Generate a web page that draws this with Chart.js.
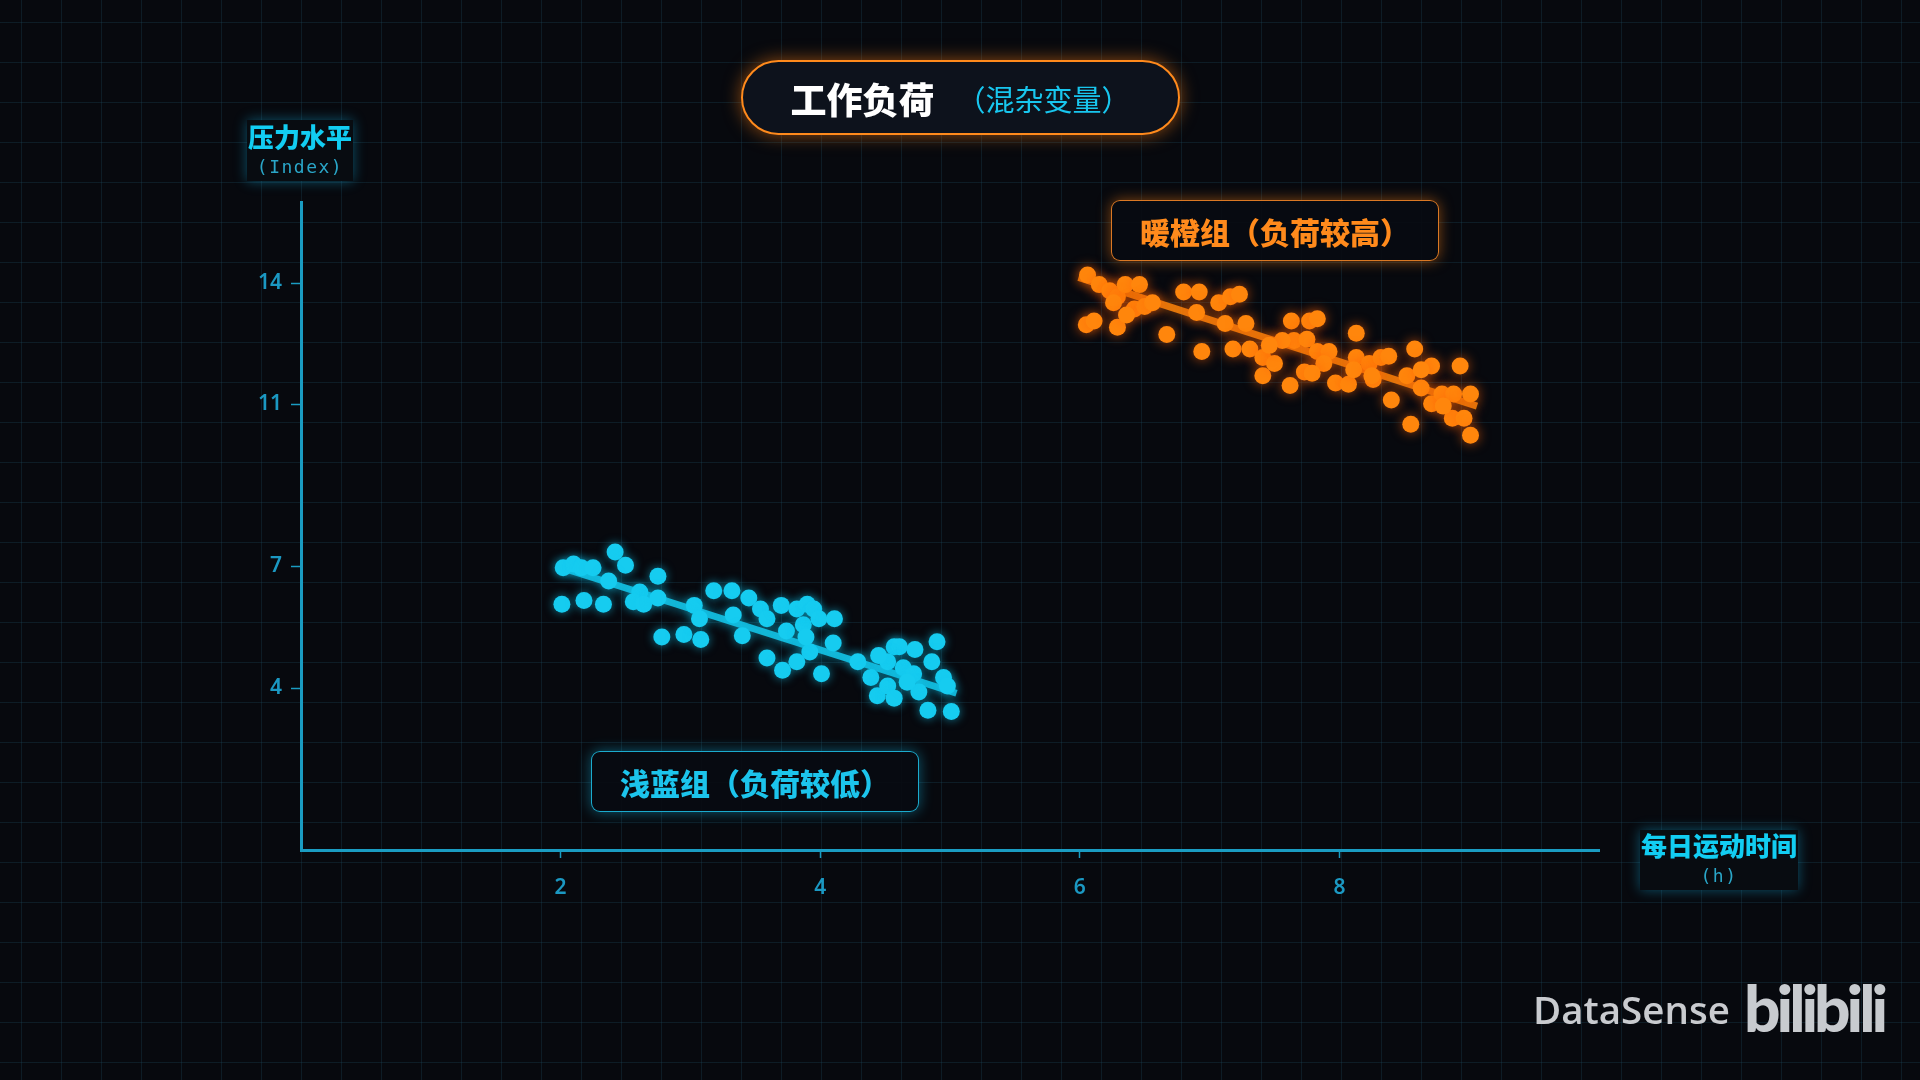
<!DOCTYPE html>
<html>
<head>
<meta charset="utf-8">
<script src="https://cdn.jsdelivr.net/npm/chart.js@4.4.1/dist/chart.umd.min.js"></script>
<style>
  html, body {
    margin: 0;
    padding: 0;
    width: 1920px;
    height: 1080px;
    overflow: hidden;
    background-color: #07090e;
    background-image:
      linear-gradient(rgba(30, 80, 100, 0.28) 1px, transparent 1px),
      linear-gradient(90deg, rgba(30, 80, 100, 0.28) 1px, transparent 1px);
    background-size: 40px 40px;
    background-position: 21px 22px;
    font-family: "Noto Sans CJK SC", "Noto Sans", sans-serif;
  }
  #wrap { position: absolute; left: 0; top: 0; width: 1920px; height: 1080px; }
  canvas { position: absolute; left: 0; top: 0; }
  .box { position: absolute; box-sizing: border-box; display: flex; align-items: center; justify-content: center; }
  #title {
    left: 741px; top: 60px; width: 439px; height: 75px;
    border: 2.5px solid #ff8a1c; border-radius: 38px;
    background: #0d121c;
    box-shadow: 0 0 18px rgba(255, 128, 20, 0.55);
  }
  #title .main { color: #ffffff; font-size: 36px; font-weight: 900; }
  #title .sub { color: #18c6ee; font-size: 29px; font-weight: 400; margin-left: 22px; }
  .group {
    height: 61px; width: 328px; border-radius: 9px;
    background: rgba(8, 11, 17, 0.92);
    font-size: 30px; font-weight: 900;
  }
  #warm {
    left: 1111px; top: 200px;
    border: 1.5px solid rgba(255, 140, 40, 0.85);
    box-shadow: 0 0 14px rgba(255, 130, 20, 0.5);
    color: #ff8a1c;
  }
  #cool {
    left: 591px; top: 751px;
    border: 1.5px solid rgba(30, 200, 240, 0.85);
    box-shadow: 0 0 14px rgba(20, 190, 235, 0.45);
    color: #1cc4ec;
  }
  .axtitle {
    flex-direction: column;
    background: #080c11;
    box-shadow: 0 0 12px rgba(20, 170, 220, 0.45);
  }
  .axtitle .cn { color: #12cdf2; font-size: 26px; font-weight: 900; line-height: 32px; }
  .axtitle .en { color: #2aa6c8; font-family: "DejaVu Sans Mono", monospace; font-size: 18px; letter-spacing: 1.5px; line-height: 30px; }
  #ytitle { left: 247px; top: 120px; width: 106px; height: 61px; }
  #xtitle { left: 1640px; top: 830px; width: 158px; height: 60px; }
  #mark {
    position: absolute; left: 1533px; top: 987px;
    color: #c9cbcf; font-family: "Open Sans", sans-serif; font-weight: 600; font-size: 38.5px; line-height: 44px;
  }
  #bili {
    position: absolute; left: 1744px; top: 972px;
    color: #c8cbcf; font-family: "Lato", sans-serif; font-weight: 900; font-size: 64px; line-height: 72px;
    letter-spacing: -4px;
  }
</style>
</head>
<body>
<div id="wrap">
  <canvas id="chart" width="1920" height="1080"></canvas>
  <div id="title" class="box"><span class="main">工作负荷</span><span class="sub">（混杂变量）</span></div>
  <div id="warm" class="box group">暖橙组（负荷较高）</div>
  <div id="cool" class="box group">浅蓝组（负荷较低）</div>
  <div id="ytitle" class="box axtitle"><span class="cn">压力水平</span><span class="en">(Index)</span></div>
  <div id="xtitle" class="box axtitle"><span class="cn">每日运动时间</span><span class="en">(h)</span></div>
  <div id="mark">DataSense</div>
  <div id="bili">bilibili</div>
</div>
<script>
// tick values
const xTicks = [2, 4, 6, 8];
const yTicks = [4, 7, 11, 14];

// 浅蓝组 (low workload): hours / stress
const blueX = [2.02, 2.10, 2.16, 2.25, 2.42, 2.50, 2.37, 2.61, 2.75, 2.01, 2.18, 2.33, 2.56, 2.64, 2.75,
  2.78, 2.95, 3.08, 3.03, 3.07, 3.18, 3.32, 3.45, 3.33, 3.40, 3.54, 3.59, 3.70, 3.59, 3.71, 3.74,
  3.82, 3.87, 3.90, 3.95, 3.99, 4.11, 3.92, 3.82, 4.01, 3.89, 4.10, 4.29, 4.39, 4.44, 4.52, 4.57,
  4.61, 4.52, 4.64, 4.72, 4.90, 4.86, 4.95, 4.98, 4.76, 4.83, 5.01, 4.57, 4.67, 4.73, 4.45];
const blueY = [6.97, 7.06, 6.97, 6.97, 7.36, 7.03, 6.64, 6.37, 6.76, 6.07, 6.16, 6.07, 6.13, 6.07, 6.22,
  5.26, 5.32, 5.20, 6.04, 5.71, 6.40, 6.40, 6.22, 5.80, 5.29, 5.95, 5.71, 6.04, 4.74, 4.44, 5.41,
  5.95, 5.56, 6.07, 5.95, 5.71, 5.71, 4.89, 4.65, 4.35, 5.26, 5.11, 4.65, 4.26, 3.81, 4.05, 5.02,
  5.02, 4.65, 4.50, 4.35, 5.14, 4.65, 4.26, 4.05, 3.90, 3.45, 3.42, 3.75, 4.14, 4.95, 4.80];

// 暖橙组 (high workload)
const orangeX = [6.06, 6.15, 6.23, 6.29, 6.35, 6.46, 6.42, 6.50, 6.56, 6.26, 6.05, 6.11, 6.29, 6.36, 6.67,
  6.80, 6.92, 6.90, 7.07, 7.16, 7.23, 7.12, 7.28, 6.94, 7.18, 7.31, 7.41, 7.41, 7.50, 7.63, 7.65,
  7.77, 7.83, 7.75, 7.83, 7.92, 7.88, 7.73, 7.62, 7.79, 7.97, 8.07, 8.13, 8.13, 8.23, 8.32, 8.38,
  8.26, 8.40, 8.52, 8.58, 8.71, 8.63, 8.71, 8.79, 8.88, 8.93, 9.01, 8.55, 8.87, 8.96, 9.01, 8.80,
  8.11, 7.56, 7.46, 8.25, 8.63];
const orangeY = [14.20, 13.96, 13.81, 13.66, 13.96, 13.96, 13.36, 13.42, 13.51, 13.51, 12.97, 13.06, 12.91, 13.21, 12.73,
  13.78, 13.78, 13.27, 13.51, 13.66, 13.72, 13.00, 13.00, 12.31, 12.37, 12.37, 12.16, 11.71, 12.01, 13.06, 12.58,
  13.06, 13.12, 12.61, 12.31, 12.31, 12.01, 11.80, 11.47, 11.77, 11.53, 11.50, 12.76, 12.16, 12.01, 12.16, 12.19,
  11.62, 11.11, 11.71, 12.37, 11.95, 11.41, 11.02, 11.26, 11.26, 11.95, 11.26, 10.51, 10.66, 10.66, 10.24, 10.96,
  11.86, 12.58, 12.46, 11.71, 11.86];

// trend lines (end points)
const blueLineX = [1.98, 5.05];
const blueLineY = [7.00, 3.87];
const orangeLineX = [5.99, 9.06];
const orangeLineY = [14.14, 10.96];

const BLUE = 'rgb(22, 204, 240)';
const ORANGE = 'rgb(255, 134, 12)';
const AXIS = '#1a9cc2';
const TICK = '#1b98c2';

const pts = (xs, ys) => xs.map((x, i) => ({ x: x, y: ys[i] }));

// soft neon glow per dataset
const glow = {
  id: 'glow',
  beforeDatasetDraw(chart, args) {
    const ds = chart.data.datasets[args.index];
    chart.ctx.save();
    chart.ctx.shadowColor = ds.glowColor || 'transparent';
    chart.ctx.shadowBlur = ds.glowBlur || 0;
  },
  afterDatasetDraw(chart) {
    chart.ctx.restore();
  }
};

new Chart(document.getElementById('chart').getContext('2d'), {
  type: 'scatter',
  data: {
    datasets: [
      {
        label: '浅蓝组',
        data: pts(blueX, blueY),
        pointRadius: 8.5,
        pointHoverRadius: 8.5,
        pointBackgroundColor: BLUE,
        pointBorderWidth: 0,
        glowColor: 'rgba(20, 200, 240, 0.6)',
        glowBlur: 10
      },
      {
        label: '暖橙组',
        data: pts(orangeX, orangeY),
        pointRadius: 8.5,
        pointHoverRadius: 8.5,
        pointBackgroundColor: ORANGE,
        pointBorderWidth: 0,
        glowColor: 'rgba(255, 100, 10, 0.65)',
        glowBlur: 12
      },
      {
        type: 'line',
        data: pts(blueLineX, blueLineY),
        borderColor: 'rgba(22, 204, 240, 0.85)',
        borderWidth: 7,
        pointRadius: 0,
        glowColor: 'rgba(20, 200, 240, 0.7)',
        glowBlur: 12
      },
      {
        type: 'line',
        data: pts(orangeLineX, orangeLineY),
        borderColor: 'rgba(255, 134, 12, 0.85)',
        borderWidth: 7,
        pointRadius: 0,
        glowColor: 'rgba(255, 110, 10, 0.7)',
        glowBlur: 12
      }
    ]
  },
  options: {
    responsive: false,
    animation: false,
    devicePixelRatio: 1,
    layout: { padding: { left: 241, right: 321, top: 202, bottom: 170 } },
    plugins: { legend: { display: false }, tooltip: { enabled: false } },
    scales: {
      x: {
        type: 'linear',
        min: 0,
        max: 10,
        afterFit: s => { s.height = 60; },
        afterBuildTicks: s => { s.ticks = xTicks.map(v => ({ value: v })); },
        border: { display: true, color: AXIS, width: 3 },
        grid: { display: true, drawOnChartArea: false, drawTicks: true, tickLength: 8, tickColor: AXIS, tickWidth: 1.5 },
        ticks: { color: TICK, padding: 17, autoSkip: false, maxRotation: 0, font: { family: 'Noto Sans', size: 21, weight: '600' } }
      },
      y: {
        type: 'linear',
        min: 0,
        max: 16,
        afterFit: s => { s.width = 60; },
        afterBuildTicks: s => { s.ticks = yTicks.map(v => ({ value: v })); },
        border: { display: true, color: AXIS, width: 3 },
        grid: { display: true, drawOnChartArea: false, drawTicks: true, tickLength: 10, tickColor: AXIS, tickWidth: 1.5 },
        ticks: { color: TICK, padding: 9, autoSkip: false, font: { family: 'Noto Sans', size: 21, weight: '600' } }
      }
    }
  },
  plugins: [glow]
});
</script>
</body>
</html>
